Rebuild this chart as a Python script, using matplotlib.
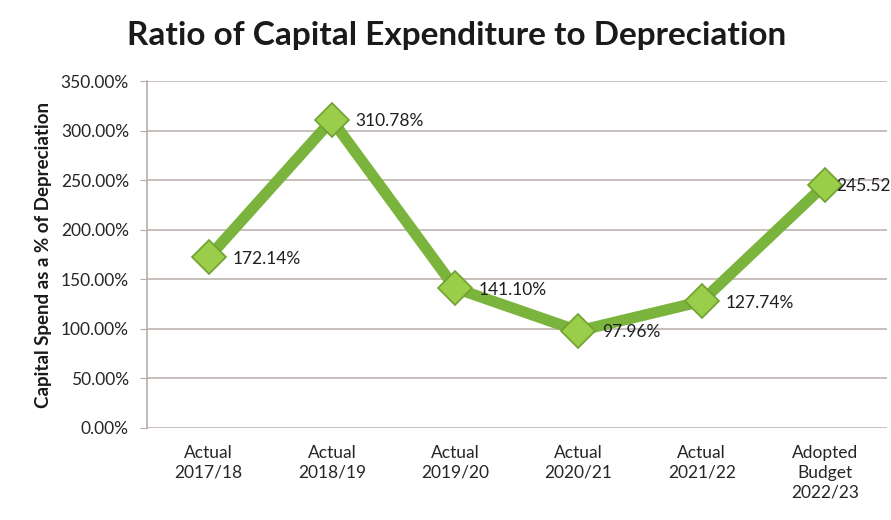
import matplotlib.pyplot as plt
from matplotlib.ticker import FuncFormatter

periods = ['Actual\n2017/18', 'Actual\n2018/19', 'Actual\n2019/20',
           'Actual\n2020/21', 'Actual\n2021/22', 'Adopted\nBudget\n2022/23']
ratios = [172.14, 310.78, 141.10, 97.96, 127.74, 245.52]
y_ticks = [0, 50, 100, 150, 200, 250, 300, 350]

plt.rcParams['font.family'] = ['Lato', 'DejaVu Sans']

fig = plt.figure(figsize=(8.91, 5.2), dpi=100)
ax = fig.add_axes([0.165, 0.177, 0.83, 0.667])

x = list(range(len(periods)))
ax.plot(x, ratios, color='#7ab43c', linewidth=8, solid_joinstyle='miter', zorder=3)
ax.plot(x, ratios, linestyle='none', marker='D', markersize=17,
        markerfacecolor='#9acd4a', markeredgecolor='#6fa030', markeredgewidth=1.2, zorder=4)

# last label sits tight against its marker so it fits near the right edge
for i, (xi, v) in enumerate(zip(x, ratios)):
    dx = 8 if i == len(x) - 1 else 17
    ax.annotate(f'{v:.2f}%', (xi, v), xytext=(dx, -1), textcoords='offset points',
                ha='left', va='center', fontsize=12.5, color='#1f1f1f', clip_on=False,
                zorder=5)

ax.set_xlim(-0.5, len(periods) - 0.5)
ax.set_ylim(0, 350)
ax.set_yticks(y_ticks)
ax.yaxis.set_major_formatter(FuncFormatter(lambda v, p: f'{v:.2f}%'))
ax.set_xticks(x)
ax.set_xticklabels(periods, fontsize=12.5, color='#262626', linespacing=1.3)
ax.tick_params(axis='y', labelsize=12.5, colors='#262626', length=5, color='#b8aca8', pad=8)
ax.tick_params(axis='x', length=0, pad=12)

ax.grid(axis='y', color='#beb4b0', linewidth=1.2)
ax.set_axisbelow(True)
for side in ['top', 'right', 'bottom']:
    ax.spines[side].set_visible(False)
ax.spines['left'].set_color('#b8aca8')
ax.spines['left'].set_linewidth(1.2)

ax.set_ylabel('Capital Spend as a % of Depreciation', fontsize=13.5, fontweight='bold',
              color='#1a1a1a', labelpad=6)
fig.suptitle('Ratio of Capital Expenditure to Depreciation', x=0.513, y=0.96,
             fontsize=24, fontweight='bold', color='#1a1a1a')

fig.savefig('out.png', dpi=100, facecolor='white')
